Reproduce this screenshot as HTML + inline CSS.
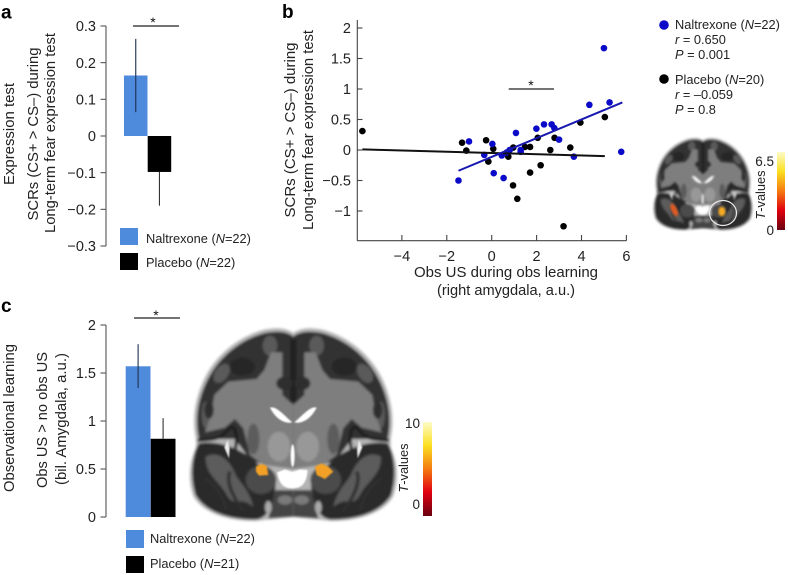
<!DOCTYPE html>
<html>
<head>
<meta charset="utf-8">
<style>
html,body{margin:0;padding:0;background:#fff;}
svg{display:block;filter:blur(0.3px);}
text{font-family:"Liberation Sans",sans-serif;fill:#222;}
.t{font-size:14.7px;}
.n{font-size:14.5px;}
.s{font-size:13.5px;}
.l{font-size:12.8px;}
.h{font-size:19px;font-weight:bold;fill:#000;}
.st{font-size:14px;fill:#111;}
</style>
</head>
<body>
<svg id="fig" width="788" height="575" viewBox="0 0 788 575" xmlns="http://www.w3.org/2000/svg">
<defs>
<linearGradient id="heat" x1="0" y1="1" x2="0" y2="0">
<stop offset="0" stop-color="#6a0010"/>
<stop offset="0.25" stop-color="#e00010"/>
<stop offset="0.5" stop-color="#f57a10"/>
<stop offset="0.75" stop-color="#fbe020"/>
<stop offset="1" stop-color="#fdfbc8"/>
</linearGradient>
<filter id="softBig" x="-10%" y="-10%" width="120%" height="120%"><feGaussianBlur stdDeviation="3.8"/></filter>
<filter id="softMid" x="-10%" y="-10%" width="120%" height="120%"><feGaussianBlur stdDeviation="2.2"/></filter>
<filter id="softMini" x="-10%" y="-10%" width="120%" height="120%"><feGaussianBlur stdDeviation="6"/></filter>
<g id="hemi">
<path d="M325 54C300 36 268 38 238 44C175 60 102 106 60 187C30 250 20 310 33 372L33 398C14 440 6 490 26 546C58 596 130 618 210 618L325 606Z" fill="#b4b4b4"/>
<path d="M325 64C300 46 268 49 240 54C180 69 109 114 69 192C39 250 29 310 42 372L150 372L200 440L325 460Z" fill="#333"/>
<ellipse cx="255" cy="92" rx="22" ry="30" fill="#5a5a5a"/>
<ellipse cx="110" cy="175" rx="20" ry="32" fill="#5a5a5a" transform="rotate(35 110 175)"/>
<ellipse cx="62" cy="300" rx="12" ry="40" fill="#5a5a5a"/>
<path d="M292 112L258 112L238 165L215 192L130 200L88 240L78 300L60 352L120 338L150 312L175 340L195 420L235 450L325 462L325 270L292 240Z" fill="#7e7e7e"/>
<path d="M322 72L322 262" stroke="#222" stroke-width="12" fill="none"/>
<ellipse cx="298" cy="205" rx="24" ry="20" fill="#2e2e2e"/>
<ellipse cx="172" cy="155" rx="38" ry="27" fill="#282828"/>
<ellipse cx="72" cy="285" rx="14" ry="26" fill="#2e2e2e"/>
<ellipse cx="205" cy="372" rx="18" ry="46" fill="#5c5c5c"/>
<ellipse cx="282" cy="395" rx="34" ry="45" fill="#989898"/>
<path d="M38 376C80 374 110 374 130 342C158 316 162 390 140 440" stroke="#1a1a1a" stroke-width="9" fill="none"/>
<path d="M42 385C22 420 14 480 32 540C62 590 130 613 210 613C250 613 272 560 272 500L200 430C160 400 100 375 42 385Z" fill="#2b2b2b"/>
<path d="M62 425C100 405 135 435 152 480C170 510 190 520 205 575C160 540 150 580 125 540C105 500 60 480 62 425Z" fill="#5c5c5c"/>
<path d="M60 490C90 510 110 535 125 585M135 470C120 500 150 560 178 590" stroke="#2e2e2e" stroke-width="10" fill="none"/>
<ellipse cx="228" cy="495" rx="46" ry="42" fill="#4c4c4c"/>
<path d="M272 525L325 525L325 605L250 610Z" fill="#444"/>
<ellipse cx="300" cy="555" rx="22" ry="14" fill="#7a7a7a"/>
<ellipse cx="250" cy="577" rx="10" ry="19" fill="#aaa"/>
</g>
<g id="vents">
<path d="M255 278C275 272 300 305 322 322C300 328 272 312 255 278Z" fill="#fff"/>
<path d="M395 278C375 272 350 305 328 322C350 328 378 312 395 278Z" fill="#fff"/>
<path d="M128 375L118 397L132 430L134 400Z" fill="#eee"/>
<path d="M522 375L532 397L518 430L516 400Z" fill="#eee"/>
<path d="M276 472L300 463L322 470L345 463L368 465C365 500 355 520 322 520C290 520 282 500 276 472Z" fill="#fff"/>
<ellipse cx="323" cy="422" rx="6" ry="34" fill="#fff"/>
</g>
<g id="brainBase">
<use href="#hemi"/>
<use href="#hemi" transform="matrix(-1 0 0 1 650 0)"/>
</g>
</defs>
<rect width="788" height="575" fill="#fff"/>

<text class="h" x="1" y="18.5">a</text>
<text class="h" x="282" y="18">b</text>
<text class="h" x="1" y="312">c</text>

<g id="panelA"></g>
<g id="panelB"></g>
<g id="panelC"></g>

<!-- panel a text -->
<text class="t" transform="translate(14 134) rotate(-90)" text-anchor="middle" textLength="102" lengthAdjust="spacingAndGlyphs">Expression test</text>
<text class="t" transform="translate(38 134) rotate(-90)" text-anchor="middle" textLength="173" lengthAdjust="spacingAndGlyphs">SCRs (CS+ &gt; CS–) during</text>
<text class="t" transform="translate(55 133) rotate(-90)" text-anchor="middle" textLength="200" lengthAdjust="spacingAndGlyphs">Long-term fear expression test</text>
<rect x="120" y="228" width="18" height="17" fill="#4f8bdc"/>
<rect x="120" y="253" width="18" height="17" fill="#000"/>
<text class="l" x="146" y="243">Naltrexone (<tspan font-style="italic">N</tspan>=22)</text>
<text class="l" x="146" y="267">Placebo (<tspan font-style="italic">N</tspan>=22)</text>
<line x1="133" x2="179" y1="26" y2="26" stroke="#222" stroke-width="1.2"/>
<text class="st" x="153" y="27" text-anchor="middle">*</text>

<!-- panel b text -->
<text class="t" transform="translate(295 130) rotate(-90)" text-anchor="middle" textLength="175" lengthAdjust="spacingAndGlyphs">SCRs (CS+ &gt; CS–) during</text>
<text class="t" transform="translate(313 130) rotate(-90)" text-anchor="middle" textLength="200" lengthAdjust="spacingAndGlyphs">Long-term fear expression test</text>
<text class="t" x="506" y="277" text-anchor="middle" textLength="184" lengthAdjust="spacingAndGlyphs">Obs US during obs learning</text>
<text class="t" x="506" y="295" text-anchor="middle" textLength="138" lengthAdjust="spacingAndGlyphs">(right amygdala, a.u.)</text>
<line x1="508.7" x2="554" y1="89" y2="89" stroke="#222" stroke-width="1.2"/>
<text class="st" x="531" y="90" text-anchor="middle">*</text>
<circle cx="664" cy="25" r="4.8" fill="#0a0ac8"/>
<text class="l" x="675" y="29">Naltrexone (<tspan font-style="italic">N</tspan>=22)</text>
<text class="l" x="675" y="44"><tspan font-style="italic">r</tspan> = 0.650</text>
<text class="l" x="675" y="59"><tspan font-style="italic">P</tspan> = 0.001</text>
<circle cx="664" cy="79" r="4.8" fill="#000"/>
<text class="l" x="675" y="84">Placebo (<tspan font-style="italic">N</tspan>=20)</text>
<text class="l" x="675" y="99"><tspan font-style="italic">r</tspan> = –0.059</text>
<text class="l" x="675" y="114"><tspan font-style="italic">P</tspan> = 0.8</text>

<!-- small brain -->
<g transform="translate(651 131.5) scale(.16)">
<use href="#brainBase" filter="url(#softMini)"/>
<use href="#vents" filter="url(#softMini)"/>
<ellipse cx="145" cy="490" rx="18" ry="42" fill="#e05a20" filter="url(#softMini)" transform="rotate(-25 145 490)"/>
<ellipse cx="443" cy="500" rx="22" ry="30" fill="#f6aa24" filter="url(#softMini)"/>
</g>
<ellipse cx="723" cy="213" rx="13.5" ry="12.5" fill="none" stroke="#e8e8e8" stroke-width="1.2"/>
<rect x="777" y="152" width="8" height="78" fill="url(#heat)"/>
<text class="s" x="774" y="166" text-anchor="end">6.5</text>
<text class="s" x="774" y="235" text-anchor="end">0</text>
<text class="l" transform="translate(765 195) rotate(-90)" text-anchor="middle"><tspan font-style="italic">T</tspan>-values</text>

<!-- panel c text -->
<text class="t" transform="translate(14 418) rotate(-90)" text-anchor="middle" textLength="148" lengthAdjust="spacingAndGlyphs">Observational learning</text>
<text class="t" transform="translate(47 420) rotate(-90)" text-anchor="middle" textLength="136" lengthAdjust="spacingAndGlyphs">Obs US &gt; no obs US</text>
<text class="t" transform="translate(66 419) rotate(-90)" text-anchor="middle" textLength="132" lengthAdjust="spacingAndGlyphs">(bil. Amygdala, a.u.)</text>
<rect x="126" y="530" width="18" height="18" fill="#4f8bdc"/>
<rect x="126" y="556" width="18" height="17" fill="#000"/>
<text class="l" x="150" y="543">Naltrexone (<tspan font-style="italic">N</tspan>=22)</text>
<text class="l" x="150" y="568">Placebo (<tspan font-style="italic">N</tspan>=21)</text>
<line x1="134" x2="180" y1="318" y2="318" stroke="#222" stroke-width="1.2"/>
<text class="st" x="156" y="320" text-anchor="middle">*</text>

<!-- big brain -->
<g transform="translate(185 315) scale(.3333)">
<use href="#brainBase" filter="url(#softBig)"/>
<use href="#vents" filter="url(#softMid)"/>
<path d="M213 455L228 447L245 452L250 480L222 482L213 470Z" fill="#f2a126" filter="url(#softMid)"/>
<path d="M390 455L410 445L430 455L445 470L420 492L395 480Z" fill="#f2a126" filter="url(#softMid)"/>
</g>
<rect x="423" y="422" width="9" height="94" fill="url(#heat)"/>
<text class="s" x="420" y="428" text-anchor="end">10</text>
<text class="s" x="420" y="509" text-anchor="end">0</text>
<text class="l" transform="translate(408 468) rotate(-90)" text-anchor="middle"><tspan font-style="italic">T</tspan>-values</text>

<script>
// Panel a data
const aCategories = ['Naltrexone', 'Placebo'];
const aValues = [0.165, -0.098];
const aErrLow = [0.065, -0.19];
const aErrHigh = [0.265, -0.098];
const aTickValues = [0.3, 0.2, 0.1, 0, -0.1, -0.2, -0.3];
const aTickLabels = ['0.3', '0.2', '0.1', '0', '−0.1', '−0.2', '−0.3'];

// Panel b data
const bNalX = [-1.48, -1.01, -0.33, 0.03, 0.09, 0.53, 0.45, 0.67, 0.8, 1.08, 1.29, 1.29, 1.99, 2.33, 2.67, 2.79, 3.0, 3.66, 4.35, 5.0, 5.25, 5.77];
const bNalY = [-0.5, 0.14, -0.08, 0.1, -0.38, -0.46, -0.09, -0.04, 0.0, 0.28, 0.0, -0.03, 0.35, 0.42, 0.42, 0.36, 0.17, -0.11, 0.74, 1.67, 0.78, -0.03];
const bPlaX = [-5.76, -1.32, -1.13, -0.25, 0.07, -0.15, 0.74, 0.96, 0.95, 1.14, 1.48, 1.71, 1.71, 2.05, 2.18, 2.61, 2.8, 3.2, 3.5, 3.95, 5.04];
const bPlaY = [0.31, 0.12, -0.01, 0.16, 0.02, -0.19, -0.11, 0.04, -0.58, -0.8, 0.05, 0.05, -0.37, 0.2, -0.25, 0, 0.2, -1.25, 0.04, 0.45, 0.54];
const bNalFitX = [-1.48, 5.82];
const bNalFitY = [-0.34, 0.78];
const bPlaFitX = [-5.76, 5.04];
const bPlaFitY = [0.01, -0.1];
const bXTicks = [-4, -2, 0, 2, 4, 6];
const bXTickLabels = ['−4', '−2', '0', '2', '4', '6'];
const bYTicks = [2, 1.5, 1, 0.5, 0, -0.5, -1];
const bYTickLabels = ['2', '1.5', '1', '0.5', '0', '−0.5', '−1'];

// Panel c data
const cCategories = ['Naltrexone', 'Placebo'];
const cValues = [1.57, 0.815];
const cErrLow = [1.345, 0.815];
const cErrHigh = [1.8, 1.03];
const cTickValues = [2, 1.5, 1, 0.5, 0];
const cTickLabels = ['2', '1.5', '1', '0.5', '0'];

const NS = 'http://www.w3.org/2000/svg';
const barColors = ['#4f8bdc', '#000'];

function mk(parent, tag, attrs, txt) {
  const el = document.createElementNS(NS, tag);
  for (const k in attrs) el.setAttribute(k, attrs[k]);
  if (txt !== undefined) el.textContent = txt;
  parent.appendChild(el);
  return el;
}

// axis functions
const yA = v => 136 - v * 366.7;
const yC = v => 517 - v * 96;
const xB = v => 491.7 + v * 22.45;
const yB = v => 150 - v * 61;
const bandA = i => 124 + i * 23.7;
const bandC = i => 125.7 + i * 25;

function barPanel(g, key, y, band, bandW, cats, values, low, high, ticks, labels, top, bottom) {
  const axis = mk(g, 'line', {x1: 106, x2: 106, y1: top, y2: bottom, stroke: '#555', 'stroke-width': 1.1});
  
  
  ticks.forEach((v, i) => {
    const tick = mk(g, 'line', {x1: 100.5, x2: 106, y1: y(v), y2: y(v), stroke: '#555', 'stroke-width': 1.1});
    
    
    const lab = mk(g, 'text', {x: 96, y: y(v) + 5.2, 'text-anchor': 'end', 'class': 'n'}, labels[i]);
    
    
  });
  cats.forEach((c, i) => {
    const y0 = y(0), yv = y(values[i]);
    const bar = mk(g, 'rect', {x: band(i), width: bandW, y: Math.min(y0, yv), height: Math.abs(yv - y0), fill: barColors[i]});
    
    
    const cx = band(i) + bandW / 2;
    const err = mk(g, 'line', {x1: cx, x2: cx, y1: y(low[i]), y2: y(high[i]), stroke: i === 0 ? '#1c2f4f' : '#333', 'stroke-width': 1.1});
    
    
  });
}

barPanel(document.getElementById('panelA'), 'panel-a', yA, bandA, 23.5, aCategories, aValues, aErrLow, aErrHigh, aTickValues, aTickLabels, yA(0.3), yA(-0.3));
barPanel(document.getElementById('panelC'), 'panel-c', yC, bandC, 24.8, cCategories, cValues, cErrLow, cErrHigh, cTickValues, cTickLabels, yC(2), yC(0));

// panel b
const gB = document.getElementById('panelB');
const bYAxis = mk(gB, 'line', {x1: 357.3, x2: 357.3, y1: 20, y2: 240.7, stroke: '#444', 'stroke-width': 1.1});


const bXAxis = mk(gB, 'line', {x1: 357.3, x2: xB(6), y1: 240.7, y2: 240.7, stroke: '#444', 'stroke-width': 1.1});


bXTicks.forEach((v, i) => {
  const tick = mk(gB, 'line', {x1: xB(v), x2: xB(v), y1: 235, y2: 240.7, stroke: '#444', 'stroke-width': 1.1});
  
  
  const lab = mk(gB, 'text', {x: xB(v), y: 261, 'text-anchor': 'middle', 'class': 'n'}, bXTickLabels[i]);
  
  
});
bYTicks.forEach((v, i) => {
  const tick = mk(gB, 'line', {x1: 357.3, x2: 362.5, y1: yB(v), y2: yB(v), stroke: '#444', 'stroke-width': 1.1});
  
  
  const lab = mk(gB, 'text', {x: 351, y: yB(v) + 5.2, 'text-anchor': 'end', 'class': 'n'}, bYTickLabels[i]);
  
  
});
bPlaX.forEach((x, i) => {
  const dot = mk(gB, 'circle', {cx: xB(x), cy: yB(bPlaY[i]), r: 3.3, fill: '#000'});
  
  
});
bNalX.forEach((x, i) => {
  const dot = mk(gB, 'circle', {cx: xB(x), cy: yB(bNalY[i]), r: 3.3, fill: '#0a0ac8'});
  
  
});
const plaFit = mk(gB, 'line', {x1: xB(bPlaFitX[0]), x2: xB(bPlaFitX[1]), y1: yB(bPlaFitY[0]), y2: yB(bPlaFitY[1]), stroke: '#111', 'stroke-width': 2});


const nalFit = mk(gB, 'line', {x1: xB(bNalFitX[0]), x2: xB(bNalFitX[1]), y1: yB(bNalFitY[0]), y2: yB(bNalFitY[1]), stroke: '#1818b0', 'stroke-width': 2});


</script>
</svg>
</body>
</html>
